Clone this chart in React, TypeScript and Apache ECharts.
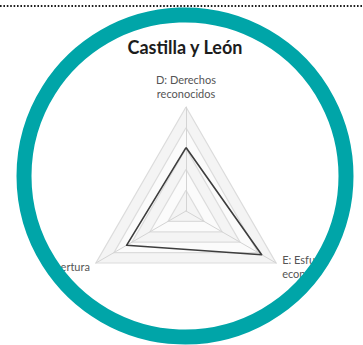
import React, { useEffect, useRef } from "react";
import * as echarts from "echarts";

const indicatorNames = ["D: Derechos\nreconocidos", "C: Cobertura", "E: Esfuerzo\neconómico"];
const indicatorMax = [1, 1, 1];
const seriesValues = [0.61, 0.66, 0.84];
const titleText = "Castilla y León";

export default function App() {
  const ref = useRef<HTMLDivElement>(null);
  useEffect(() => {
    if (!ref.current) return;
    const chart = echarts.init(ref.current, null, { renderer: "svg" });
    chart.setOption({
      animation: false,
      backgroundColor: "#ffffff",
      radar: {
        center: [186, 211],
        radius: 104,
        startAngle: 90,
        shape: "polygon",
        splitNumber: 5,
        nameGap: 7,
        indicator: indicatorNames.map((n, i) => ({ name: n, max: indicatorMax[i], min: 0 })),
        axisName: {
          color: "#555555",
          fontSize: 11,
          fontFamily: "Lato",
          lineHeight: 14,
        },
        axisLine: { lineStyle: { color: "#d4d4d4", width: 1 } },
        splitLine: { lineStyle: { color: ["#dcdcdc"], width: 1.2 } },
        splitArea: { show: true, areaStyle: { color: ["#f4f4f4", "#fbfbfb"] } },
      },
      series: [
        {
          type: "radar",
          symbol: "none",
          lineStyle: { color: "#3d3d3d", width: 1.6 },
          data: [{ value: seriesValues, name: titleText }],
        },
      ],
      graphic: {
        elements: [
          {
            type: "ring",
            shape: { cx: 185, cy: 176, r: 420, r0: 166 },
            style: { fill: "#ffffff" },
            z: 90,
          },
          {
            type: "circle",
            shape: { cx: 185, cy: 176, r: 161 },
            style: { fill: "none", stroke: "#00A5A8", lineWidth: 15 },
            z: 100,
          },
          {
            type: "line",
            shape: { x1: 0, y1: 6, x2: 363, y2: 6 },
            style: { stroke: "#1e1e1e", lineWidth: 2, lineDash: [1.6, 1.8] },
            z: 110,
          },
          {
            type: "text",
            x: 185,
            y: 47,
            style: {
              text: titleText,
              fontSize: 18,
              fontWeight: "bold",
              fontFamily: "Lato",
              fill: "#1c1c1c",
              textAlign: "center",
              textVerticalAlign: "middle",
            },
            z: 110,
          },
        ],
      },
    });
    return () => chart.dispose();
  }, []);
  return (
    <div
      ref={ref}
      style={{ position: "fixed", left: 0, top: 0, width: 363, height: 345 }}
    />
  );
}
